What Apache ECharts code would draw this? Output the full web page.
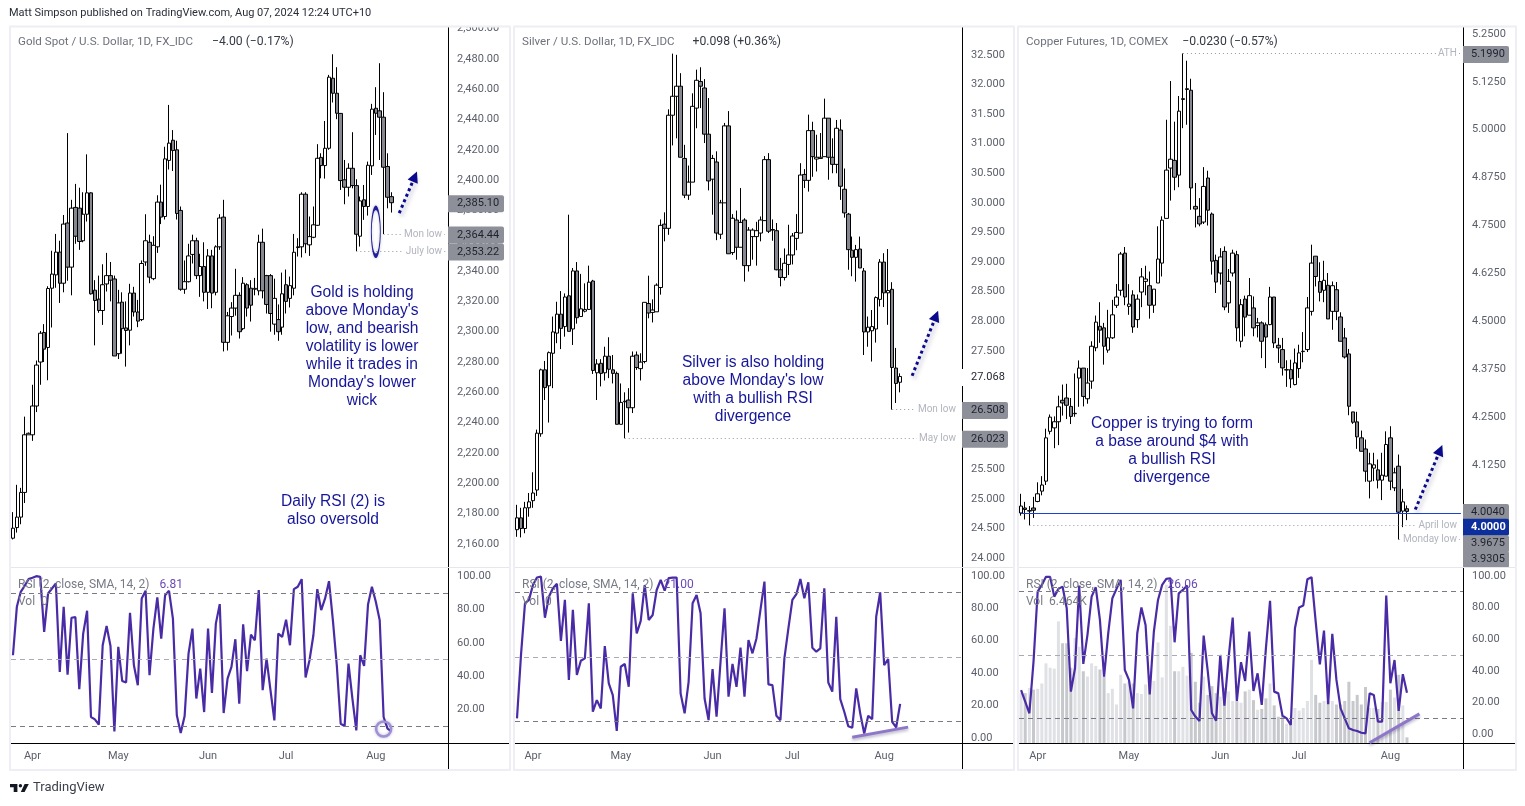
<!DOCTYPE html>
<html>
<head>
<meta charset="utf-8">
<title>Gold, Silver and Copper</title>
<script src="https://cdn.jsdelivr.net/npm/echarts@6/dist/echarts.min.js"></script>
<style>
  html, body { margin: 0; padding: 0; background: #fff; }
  #chart { width: 1525px; height: 806px; }
</style>
</head>
<body>
<div id="chart"></div>
<script>
// Daily bars, each row is open, high, low, close
var goldBars = [
  [2163.8,2181,2163,2170.4],[2170.8,2199,2167.5,2177.7],[2177.7,2197,2173,2194],[2194,2244,2187,2232],[2232,2233.5,2232,2233],
  [2232,2265,2228,2251],[2251,2281,2247,2278],[2280,2300.5,2265,2299],[2299.5,2305,2280,2288.5],[2289.6,2330,2268,2328.5],
  [2328.7,2353.4,2302.8,2338],[2337.5,2364.5,2329,2352.5],[2352.5,2360,2319,2332],[2332,2377,2326,2371],[2371.7,2431,2333.6,2342.6],
  [2342.6,2387,2324,2381.5],[2382,2397.5,2358,2363],[2381.5,2395,2354,2359.5],[2360,2392,2359,2377.5],[2377.5,2417,2372.7,2391.6],
  [2391.6,2392,2324.5,2325],[2327.4,2334,2291,2320.6],[2321.5,2337,2312.5,2314],[2314,2344.5,2304.5,2331],[2331.5,2352,2326.5,2337],
  [2337,2346,2320,2334],[2334.8,2337,2284,2284],[2285.5,2327.6,2282,2319],[2319.5,2326,2285.5,2302],[2302.5,2320,2277,2300.8],
  [2301,2331.6,2291,2325.5],[2325.5,2329.6,2310,2313],[2313,2321,2303,2307],[2308,2347,2307,2345],[2346,2377.5,2343.5,2360],
  [2359,2364,2332,2336],[2335,2363,2334,2357],[2356,2390,2352,2385.5],[2385.5,2397,2371,2375.6],[2376,2422,2374,2414],
  [2413,2449.6,2407,2424.4],[2426.3,2433,2406,2419.5],[2420,2426,2374,2378],[2380,2382.6,2327,2328],[2328,2347,2325,2333],
  [2333,2358,2332.5,2350],[2351,2364,2345,2360],[2360,2362,2334.7,2337],[2337,2351.4,2323,2343],[2343,2359,2320,2326],
  [2326,2354.5,2315,2350],[2350,2354,2315.5,2325.5],[2326,2357,2324,2356],[2356,2377.5,2354,2375],[2375.6,2387,2287,2293],
  [2293,2313,2287.6,2310.5],[2310,2319.5,2297.5,2315.6],[2315.6,2341.5,2310.6,2324],[2324,2326,2295.5,2300],[2302,2336,2301,2332],
  [2331,2332,2310,2315.6],[2328.7,2334,2306.7,2317.5],[2328,2335.5,2324,2328.6],[2327,2364,2324,2359],[2359,2368,2322,2327],
  [2337,2337.5,2312,2318],[2337,2338,2300,2312],[2305,2335,2298,2322],[2308,2318,2294,2300],[2303,2339,2298,2325],
  [2331,2341,2312,2320],[2322,2336.4,2316,2330.4],[2328.7,2364.5,2324,2352.4],[2355.5,2361.7,2349.6,2356],[2356,2392,2349,2390.7],
  [2390.7,2392,2351.8,2358],[2357.3,2376,2350,2362.7],[2362.3,2382.6,2361.7,2370.5],[2370.2,2423.7,2369.8,2414.4],[2415,2417.7,2401.2,2409.6],
  [2409.6,2439,2401,2421],[2421,2469.4,2420,2467.9],[2467.2,2483,2451.2,2457.3],[2457.3,2474.5,2440.2,2444.1],[2444,2444.3,2393.5,2399.7],
  [2400.2,2413.3,2384.1,2395.3],[2395.3,2411.1,2389.2,2407.8],[2407.8,2431.6,2394.6,2396.4],[2396.4,2400.6,2353.22,2364.3],[2363,2389.2,2356.2,2386.3],
  [2387,2396.8,2373.8,2382.6],[2382.6,2412.2,2376.6,2409.8],[2409.4,2450.3,2403.4,2446.8],[2447.4,2461.3,2429.8,2444.1],[2445.7,2477.1,2413.3,2441.5],
  [2441.5,2458,2364.44,2408.5],[2409,2417.7,2381.4,2388.7],[2389.1,2392,2378.6,2385.1]
];
var silverBars = [
  [24.48,24.9,24.36,24.68],[24.68,24.85,24.35,24.5],[24.5,24.95,24.42,24.85],[24.85,25.1,24.7,24.95],[24.97,25.45,24.85,25.1],
  [25.15,26.17,25.05,26.11],[26.1,27.2,26.05,27.18],[27.18,27.33,26.67,26.88],[26.91,27.49,26.29,27.47],[27.46,28.08,26.87,27.82],
  [27.8,28.33,27.63,28.12],[28.12,28.51,27.53,27.88],[27.91,28.47,27.74,28.41],[28.43,29.8,27.83,27.83],[27.87,28.9,27.6,28.85],
  [28.85,29,27.96,28.06],[28.08,28.8,28.08,28.21],[28.17,28.64,28.15,28.2],[28.2,28.94,28.19,28.66],[28.68,28.7,27.11,27.17],
  [27.13,27.36,26.67,27.28],[27.29,27.36,26.9,27.12],[27.13,27.57,27,27.41],[27.41,27.73,27.04,27.19],[27.18,27.43,26.95,27.12],
  [27.12,27.15,26.26,26.26],[26.26,26.95,26.26,26.63],[26.64,26.8,26.023,26.65],[26.67,26.87,26.12,26.54],[26.54,27.49,26.45,27.41],
  [27.43,27.49,27.18,27.22],[27.2,27.46,27,27.31],[27.32,28.32,27.29,28.32],[28.3,28.77,28.05,28.14],[28.15,28.37,27.98,28.19],
  [28.16,28.64,28.16,28.61],[28.57,29.72,28.45,29.62],[29.64,29.84,29.35,29.57],[29.57,31.58,29.46,31.48],[31.48,32.52,30.97,31.8],
  [31.8,32.5,31.09,31.97],[31.97,32.19,30.77,30.77],[30.75,30.98,30.08,30.13],[30.13,30.63,30.05,30.35],[30.35,31.85,30.35,31.63],
  [31.6,32.25,31.26,32.07],[32.05,32.29,31.6,31.97],[31.94,32.09,31.01,31.16],[31.16,31.77,30.21,30.37],[30.4,30.81,29.8,30.75],
  [30.69,30.87,29.37,29.49],[29.47,30.05,29.39,30],[30,31.35,30,31.3],[31.3,31.55,29.14,29.14],[29.16,29.81,29.12,29.74],
  [29.71,29.87,29.04,29.25],[29.25,30.25,29.25,29.67],[29.71,29.74,28.67,28.94],[28.94,29.59,28.84,29.54],[29.43,29.57,29.04,29.54],
  [29.43,29.68,28.94,29.53],[29.49,29.77,29.35,29.71],[29.7,30.79,29.7,30.73],[30.73,30.84,29.49,29.52],[29.54,29.72,29.36,29.55],
  [29.53,29.66,28.86,28.87],[28.87,29.07,28.59,28.74],[28.74,29.23,28.69,28.98],[28.96,29.63,28.78,29.12],[29.12,29.49,28.96,29.44],
  [29.4,29.81,29.2,29.5],[29.49,30.67,29.49,30.47],[30.48,30.57,30.25,30.38],[30.38,31.49,30.19,31.22],[31.22,31.37,30.44,30.78],
  [30.74,31.15,30.53,30.77],[30.75,31.18,30.75,30.77],[30.78,31.76,30.78,31.43],[31.43,31.43,30.39,30.77],[30.77,31.09,30.5,30.65],
  [30.65,31.4,30.5,31.26],[31.23,31.41,30.05,30.28],[30.23,30.58,29.75,29.83],[29.81,29.83,28.87,29.21],[29.2,29.43,28.76,29.08],
  [29.08,29.29,28.67,29.21],[29.22,29.43,28.9,28.9],[28.85,28.9,27.43,27.82],[27.82,28.08,27.57,27.9],[27.84,28.19,27.32,27.91],
  [27.87,28.42,27.64,28.4],[28.37,29.05,28.25,29],[29,29.15,28.24,28.48],[28.48,29.22,27.94,28.52],[28.54,28.66,26.508,27.22],
  [27.21,27.55,26.62,26.95],[26.97,27.12,26.8,27.068]
];
var copperBars = [
  [4,4.05,3.993,4.018],[4.013,4.029,3.983,4.009],[4.005,4.018,3.9675,4.006],[4.013,4.042,3.987,4.007],[4.03,4.08,4.028,4.05],
  [4.057,4.096,4.046,4.073],[4.083,4.22,4.073,4.196],[4.213,4.257,4.205,4.25],[4.222,4.252,4.169,4.238],[4.238,4.306,4.177,4.277],
  [4.294,4.335,4.254,4.287],[4.3,4.337,4.245,4.281],[4.278,4.3,4.232,4.252],[4.259,4.364,4.251,4.26],[4.352,4.398,4.277,4.378],
  [4.378,4.378,4.278,4.304],[4.298,4.378,4.285,4.339],[4.344,4.448,4.324,4.435],[4.431,4.515,4.422,4.498],[4.487,4.55,4.444,4.477],
  [4.483,4.496,4.387,4.435],[4.425,4.53,4.418,4.457],[4.457,4.556,4.454,4.517],[4.5418,4.5974,4.535,4.5635],[4.581,4.681,4.567,4.6756],
  [4.678,4.694,4.542,4.5635],[4.539,4.597,4.517,4.545],[4.569,4.581,4.47,4.4853],[4.5045,4.57,4.483,4.558],[4.5765,4.639,4.537,4.616],
  [4.6043,4.645,4.568,4.6104],[4.593,4.63,4.507,4.542],[4.542,4.584,4.522,4.584],[4.6,4.748,4.6,4.6625],[4.652,4.774,4.617,4.764],
  [4.7686,5.026,4.7686,4.8946],[4.9,5.127,4.815,4.923],[4.92,5.021,4.842,4.876],[4.8815,5.088,4.85,5.0484],[5.079,5.199,5.004,5.081],
  [5.105,5.18,5.013,5.107],[5.103,5.133,4.791,4.848],[4.8,4.861,4.745,4.793],[4.774,4.8216,4.748,4.754],[4.759,4.9024,4.754,4.852],
  [4.874,4.893,4.75,4.79],[4.78,4.784,4.622,4.657],[4.659,4.674,4.574,4.6025],[4.626,4.691,4.596,4.668],[4.6825,4.6956,4.529,4.5374],
  [4.548,4.6365,4.522,4.6043],[4.626,4.687,4.617,4.678],[4.674,4.684,4.448,4.483],[4.448,4.558,4.432,4.5435],[4.558,4.567,4.461,4.511],
  [4.516,4.613,4.516,4.567],[4.535,4.565,4.461,4.483],[4.489,4.509,4.458,4.496],[4.496,4.5,4.404,4.448],[4.491,4.497,4.378,4.459],
  [4.4914,4.59,4.49,4.5635],[4.5635,4.5635,4.4306,4.4436],[4.4375,4.4567,4.3915,4.4306],[4.4263,4.4567,4.3585,4.3785],[4.373,4.3984,4.329,4.374],
  [4.374,4.4,4.3263,4.3498],[4.335,4.429,4.333,4.3915],[4.3767,4.439,4.3524,4.4176],[4.421,4.472,4.3932,4.422],[4.4263,4.5635,4.42,4.535],
  [4.526,4.7,4.515,4.652],[4.67,4.67,4.591,4.617],[4.604,4.654,4.552,4.5757],[4.581,4.658,4.55,4.607],[4.594,4.626,4.5062,4.5062],
  [4.526,4.604,4.478,4.593],[4.5825,4.6026,4.503,4.526],[4.5114,4.5236,4.448,4.448],[4.4567,4.4827,4.403,4.407],[4.415,4.428,4.255,4.2785],
  [4.2637,4.2637,4.2325,4.2368],[4.2377,4.264,4.1673,4.1986],[4.196,4.215,4.161,4.161],[4.167,4.1916,4.0813,4.109],[4.083,4.157,4.038,4.128],
  [4.117,4.157,4.083,4.1256],[4.1125,4.1395,4.064,4.0856],[4.0856,4.157,4.0335,4.0986],[4.096,4.213,4.096,4.1786],[4.196,4.2264,4.0595,4.083],
  [4.0656,4.118,4.057,4.1047],[4.122,4.1525,3.9305,4.002],[4.0048,4.063,3.963,4.029],[4.011,4.0195,3.9813,4.004]
];

// RSI (2) readings, one per bar
var goldRsi = [52.5,81.6,90.6,94.2,98.2,99,100,99.6,66.5,89.6,92.6,95.6,42.5,81.6,40.9,75,75.4,32.1,65.5,79.2,
  15.4,14,10.8,58.5,70.1,58.1,6.8,57.5,37.1,36.1,78,46.5,34.5,86.6,91.2,40.5,68.5,87.2,62.5,88.6,
  91.2,74.5,16.4,5.8,16,53.5,68.5,26.5,44.5,18.4,68.5,29.9,71.5,83.2,17.8,38.5,45.5,62.1,23.4,71.1,
  42.9,64.9,61.5,91.6,31.5,50.5,31.5,13.4,65.5,63.5,73.9,58.5,92.2,93.6,98.2,39.1,49.5,64.5,92.2,79.6,
  86.6,97,73.5,46.5,11.4,10,47.5,26.5,7.4,52.5,46.1,83,93.6,84.6,73.5,15.4,8.4,6.81];
var silverRsi = [12,51.1,83.1,85.2,94.4,99,99.6,74.2,87.2,92.4,95.1,59.8,85.2,35.7,79,38.8,47.6,49.1,83.1,16.1,
  23.3,18.1,56.7,33.6,26.4,4.3,43.9,45.6,31.5,89.3,64.5,72.2,94.4,72.8,75.9,91.3,97.5,90.9,98.6,99,
  99,27.4,15.1,34.6,83.1,88.2,76.9,24.3,10.9,42.5,13,47,80,25.4,45.6,31.5,55.7,25.4,60.4,52.2,
  61.4,79,96.5,33,32.6,13.6,10.9,49.1,67.6,85.2,88.7,98.1,86.2,96.1,55.7,53.2,55.3,92.4,34.2,28.5,
  74.8,23.9,16.1,7.2,6.2,30.5,15.1,2.7,13.6,11.5,74.8,89.9,44.9,48.7,9.9,6.4,21];
var copperRsi = [27.8,20.5,13.1,45.8,90.1,94.3,99.4,99.4,86.9,91.8,93.2,79.5,26.8,41.6,93.9,44.3,62.7,86.9,92.8,72.2,
  36.3,63.7,85.9,91.8,97.5,40.5,34.2,16.2,63.7,80,69,25.1,64.8,84.8,94.3,98.1,98.5,58,89,91.1,
  93.9,15.2,11,8.2,62.2,39.5,13.1,8.4,50,17.9,47.9,73.6,20.9,45.4,33.5,64.8,27.2,38.4,18.4,54.2,
  84.2,26.8,25.7,11.6,9.9,5.7,66.9,80,81.2,97.9,99.2,71.1,44.1,65.4,18.8,63.3,34.2,16.2,9.9,3.6,
  2.5,1.9,0.8,0.4,25.7,24.7,7.8,7.8,87.6,32.1,46.8,14.6,37.8,26.06];

// Copper volume in thousands, one per bar
var copperVolume = [57,57,63,61,62,68,91,86,85,139,114,114,86,120,110,82,76,91,88,84,
  76,57,62,44,78,68,70,68,57,56,67,67,71,115,75,181,134,82,82,87,
  77,103,70,46,76,55,65,57,53,63,59,48,48,46,59,61,49,38,39,51,
  68,43,30,32,22,25,40,37,40,48,95,55,46,48,48,48,44,44,48,70,
  48,55,44,64,40,40,39,47,47,61,52,78,43,6.464];

// Axis ticks
var goldTicks = [2160,2180,2200,2220,2240,2260,2280,2300,2320,2340,2360,2380,2400,2420,2440,2460,2480,2500];
var silverTicks = [24,24.5,25,25.5,26,26.5,27,27.5,28,28.5,29,29.5,30,30.5,31,31.5,32,32.5];
var copperTicks = [4,4.125,4.25,4.375,4.5,4.625,4.75,4.875,5,5.125,5.25];
var goldRsiTicks = [20,40,60,80,100];
var rsiTicks = [0,20,40,60,80,100];

// Month labels and the bar each one sits on
var monthNames = ['Apr','May','Jun','Jul','Aug'];
var goldMonthBars = [5,27,50,70,93];
var silverMonthBars = [4,26,49,69,92];
var copperMonthBars = [4,26,48,67,89];

// Price tags on the right axis: text and the price level they sit at
var goldTagText = ['2,385.10','2,364.44','2,353.22'];
var goldTagAt = [2385.1,2364.44,2353.22];
var silverTagText = ['27.068','26.508','26.023'];
var silverTagAt = [27.068,26.508,26.023];
var copperTagText = ['5.1990','4.0040','4.0000','3.9675','3.9305'];
var copperTagAt = [5.199,4.004,3.9656,3.9223,3.8814];

var AXIS_FONT = 'Roboto';
var NOTE_BLUE = '#16169a';
var PURPLE = '#4a2ba6';

function dottedLine(name, bar, lastSlot, price) {
  return [{
    coord: [bar, price],
    lineStyle: { color: '#9598a1', type: [1, 3], width: 1 },
    label: {
      show: true, position: 'insideEnd', distance: 2, formatter: name, color: '#b2b5be',
      fontFamily: AXIS_FONT, fontSize: 10, backgroundColor: '#fff', padding: [1, 2]
    },
    symbol: 'none'
  }, { coord: [lastSlot, price], symbol: 'none' }];
}

function arrowLine(from, to) {
  return [{
    coord: from,
    symbol: 'none',
    label: { show: false },
    lineStyle: { color: '#0a0a8c', type: [3, 3], width: 3, shadowColor: 'rgba(20,20,80,0.35)', shadowBlur: 4, shadowOffsetX: 2, shadowOffsetY: 2 }
  }, { coord: to, symbol: 'triangle', symbolSize: 11 }];
}

function tagSeries(axisIdx, tags) {
  return {
    type: 'custom',
    coordinateSystem: 'cartesian2d',
    xAxisIndex: axisIdx,
    yAxisIndex: axisIdx,
    clip: false,
    silent: true,
    z: 6,
    encode: { x: 0, y: 1 },
    data: tags.map(function(t) { return [0, t.at]; }),
    renderItem: function(params, api) {
      var t = tags[params.dataIndex];
      var y = api.coord([0, api.value(1)])[1] + 1;
      var x = params.coordSys.x + params.coordSys.width;
      return {
        type: 'group',
        children: [{
          type: 'rect',
          shape: { x: x - (t.kind === 'white' ? 1 : 0), y: y - 8.5, width: t.w, height: 17, r: [0, 2, 2, 0] },
          style: { fill: t.kind === 'blue' ? '#0d2f9c' : (t.kind === 'white' ? '#fff' : '#8e9099') }
        }, {
          type: 'text',
          style: {
            x: x + t.pad, y: y, text: t.text, verticalAlign: 'middle', align: 'left',
            fill: t.kind === 'blue' ? '#fff' : '#1e222d',
            font: (t.kind === 'blue' ? 'bold ' : '') + '11px ' + AXIS_FONT
          }
        }]
      };
    }
  };
}

var grid = [], xAxis = [], yAxis = [], series = [], title = [];

// One instrument: a price pane on top and an RSI pane below
function addPanel(p) {
  var price = grid.length, rsi = price + 1;
  var cats = [];
  for (var i = 0; i < p.slots; i++) cats.push(String(i));

  grid.push({ left: p.left, width: p.width, top: 27, height: 540 });
  grid.push({ left: p.left, width: p.width, top: 568, height: 175 });

  xAxis.push({ type: 'category', gridIndex: price, data: cats, show: false });
  xAxis.push({
    type: 'category', gridIndex: rsi, data: cats,
    axisLine: { onZero: false, lineStyle: { color: '#000', width: 1 } },
    axisTick: { show: false },
    axisLabel: {
      color: '#5d606b', fontFamily: AXIS_FONT, fontSize: 11, margin: 8,
      interval: function(index) { return p.monthBars.indexOf(index) >= 0; },
      formatter: function(value) { return monthNames[p.monthBars.indexOf(Number(value))]; }
    }
  });

  yAxis.push({
    type: 'value', gridIndex: price, position: 'right', min: p.min, max: p.max,
    splitLine: { show: false },
    axisLine: { show: true, lineStyle: { color: '#000', width: 1 } },
    axisTick: { show: false },
    axisLabel: {
      customValues: p.ticks, color: '#5d606b', fontFamily: AXIS_FONT, fontSize: 11, margin: 9,
      padding: [3, 0, 0, 0], formatter: p.format
    }
  });
  yAxis.push({
    type: 'value', gridIndex: rsi, position: 'right', min: p.rsiMin, max: p.rsiMax,
    splitLine: { show: false },
    axisLine: { show: true, lineStyle: { color: '#000', width: 1 } },
    axisTick: { show: false },
    axisLabel: {
      customValues: p.rsiTicks, color: '#5d606b', fontFamily: AXIS_FONT, fontSize: 11, margin: 9,
      padding: [3, 0, 0, 0],
      formatter: function(v) { return v.toFixed(2); }
    }
  });

  series.push({
    type: 'candlestick',
    xAxisIndex: price,
    yAxisIndex: price,
    barWidth: 4,
    silent: true,
    animation: false,
    itemStyle: { color: '#fff', color0: '#858891', borderColor: '#000', borderColor0: '#000', borderWidth: 1 },
    data: p.bars.map(function(b) { return [b[0], b[3], b[2], b[1]]; }),
    markLine: {
      silent: true, animation: false, symbol: 'none', label: { show: false },
      data: p.lines
    },
    markPoint: p.ellipse ? {
      silent: true, animation: false,
      data: [{
        coord: p.ellipse, symbol: 'circle', symbolSize: [9, 48], label: { show: false },
        itemStyle: { color: 'rgba(0,0,0,0)', borderColor: '#1f1f9c', borderWidth: 2, shadowColor: 'rgba(20,20,80,0.3)', shadowBlur: 3 }
      }]
    } : undefined
  });

  series.push(tagSeries(price, p.tags));

  // RSI line with its 90 / 50 / 10 bands
  series.push({
    type: 'line',
    xAxisIndex: rsi,
    yAxisIndex: rsi,
    showSymbol: false,
    silent: true,
    animation: false,
    z: 4,
    lineStyle: { color: PURPLE, width: 2.2 },
    data: p.rsi,
    markLine: {
      silent: true, animation: false, symbol: 'none', label: { show: false },
      data: [
        { yAxis: 90, lineStyle: { color: '#787b86', type: [5, 4], width: 1 } },
        { yAxis: 50, lineStyle: { color: '#a8abb4', type: [5, 4], width: 1 } },
        { yAxis: 10, lineStyle: { color: '#787b86', type: [5, 4], width: 1 } }
      ].concat(p.rsiNotes || [])
    },
    markPoint: p.rsiCircle ? {
      silent: true, animation: false,
      data: [{
        coord: p.rsiCircle, symbol: 'circle', symbolSize: 15, label: { show: false },
        itemStyle: { color: 'rgba(0,0,0,0)', borderColor: '#a08fd6', borderWidth: 2.5, shadowColor: 'rgba(20,20,80,0.3)', shadowBlur: 3 }
      }]
    } : undefined
  });

  if (p.volume) {
    yAxis.push({ type: 'value', gridIndex: rsi, show: false, min: 0, max: 200, splitLine: { show: false } });
    series.push({
      type: 'bar',
      xAxisIndex: rsi,
      yAxisIndex: yAxis.length - 1,
      barWidth: 3,
      silent: true,
      animation: false,
      z: 1,
      data: p.volume.map(function(v, i) {
        var up = p.bars[i][3] >= p.bars[i][0];
        return { value: v, itemStyle: { color: up ? '#e0e1e5' : '#c6c8cc' } };
      })
    });
  }

  title.push({
    left: p.left + 2, top: 28,
    text: '{a|' + p.name + '}  {b|' + p.change + '}',
    textStyle: {
      rich: {
        a: { color: '#6f727c', fontFamily: AXIS_FONT, fontSize: 11.6, fontWeight: 'normal', padding: [0, p.titleGap, 0, 0] },
        b: { color: '#363a45', fontFamily: AXIS_FONT, fontSize: 12.2, fontWeight: 'normal' }
      }
    }
  });
  title.push({
    left: p.left + 2, top: 571,
    text: '{a|RSI (2, close, SMA, 14, 2)}  {c|' + p.rsiText + '}\n{a|' + p.volText + '}',
    textStyle: {
      lineHeight: 17,
      rich: {
        a: { color: '#787b86', fontFamily: AXIS_FONT, fontSize: 12, lineHeight: 17, fontWeight: 'normal' },
        c: { color: '#6a4bb5', fontFamily: AXIS_FONT, fontSize: 12, lineHeight: 17, fontWeight: 'normal' }
      }
    }
  });
}

function commaFormat(v) {
  var parts = v.toFixed(2).split('.');
  return parts[0].charAt(0) + ',' + parts[0].slice(1) + '.' + parts[1];
}

function makeTags(texts, prices, kinds, w, pad) {
  return texts.map(function(t, i) {
    return { text: t, at: prices[i], kind: kinds[i], w: w, pad: pad };
  });
}

addPanel({
  name: 'Gold Spot / U.S. Dollar, 1D, FX_IDC', change: '\u22124.00 (\u22120.17%)', titleGap: 9,
  left: 11, width: 437, slots: 112, min: 2144.8, max: 2501, ticks: goldTicks, format: commaFormat,
  rsiMin: -0.2, rsiMax: 104.9, rsiTicks: goldRsiTicks, rsiText: '6.81', volText: 'Vol  0',
  bars: goldBars, rsi: goldRsi, monthBars: goldMonthBars,
  tags: makeTags(goldTagText, goldTagAt, ['gray', 'gray', 'gray'], 56, 9),
  lines: [
    dottedLine('Mon low', 95, 111, 2364.44),
    dottedLine('July low', 88, 111, 2353.22),
    arrowLine([99, 2378.2], [103, 2402.4])
  ],
  ellipse: [93, 2365.9],
  rsiCircle: [95, 8.2]
});

addPanel({
  name: 'Silver / U.S. Dollar, 1D, FX_IDC', change: '+0.098 (+0.36%)', titleGap: 8,
  left: 515, width: 447, slots: 112, min: 23.85, max: 32.97, ticks: silverTicks,
  format: function(v) { return v.toFixed(3); },
  rsiMin: -3.2, rsiMax: 104.9, rsiTicks: rsiTicks, rsiText: '21.00', volText: 'Vol  0',
  bars: silverBars, rsi: silverRsi, monthBars: silverMonthBars,
  tags: makeTags(silverTagText, silverTagAt, ['white', 'gray', 'gray'], 46, 9),
  lines: [
    dottedLine('Mon low', 94, 111, 26.508),
    dottedLine('May low', 27, 111, 26.023),
    arrowLine([99, 27.08], [105, 28.09])
  ],
  rsiNotes: [[
    { coord: [84, 0.4], lineStyle: { color: '#8f76c9', width: 3, type: 'solid', shadowColor: 'rgba(20,20,80,0.3)', shadowBlur: 3, shadowOffsetY: 2 } },
    { coord: [98, 6.6] }
  ]]
});

addPanel({
  name: 'Copper Futures, 1D, COMEX', change: '\u22120.0230 (\u22120.57%)', titleGap: 4,
  left: 1019, width: 444, slots: 107, min: 3.859, max: 5.268, ticks: copperTicks,
  format: function(v) { return v.toFixed(4); },
  rsiMin: -5.7, rsiMax: 105, rsiTicks: rsiTicks, rsiText: '26.06', volText: 'Vol  6.464K',
  bars: copperBars, rsi: copperRsi, monthBars: copperMonthBars, volume: copperVolume,
  tags: makeTags(copperTagText, copperTagAt, ['gray', 'gray', 'blue', 'gray', 'gray'], 46, 8),
  lines: [
    [{ coord: [0, 4], symbol: 'none', label: { show: false }, lineStyle: { color: '#1a44d0', type: 'solid', width: 1 } }, { coord: [106, 4], symbol: 'none' }],
    dottedLine('ATH', 39, 106, 5.199),
    dottedLine('April low', 2, 106, 3.9675),
    dottedLine('Monday low', 91, 106, 3.9305),
    arrowLine([95, 4.009], [101, 4.164])
  ],
  rsiNotes: [[
    { coord: [84, -5.5], lineStyle: { color: '#8f76c9', width: 3, type: 'solid', shadowColor: 'rgba(20,20,80,0.3)', shadowBlur: 3, shadowOffsetY: 2 } },
    { coord: [96, 12.7] }
  ]]
});

// Frames, axis stubs, header, footer and the notes written on the chart
function frame(x, w) {
  return { type: 'rect', z: 50, shape: { x: x, y: 26.5, width: w, height: 743.5 }, style: { fill: 'none', stroke: '#eeeef4', lineWidth: 2 } };
}
function hline(x1, x2, y, color) {
  return { type: 'line', z: 40, shape: { x1: x1, y1: y, x2: x2, y2: y }, style: { stroke: color, lineWidth: 1 } };
}
function vline(x, y1, y2) {
  return { type: 'line', z: 40, shape: { x1: x, y1: y1, x2: x, y2: y2 }, style: { stroke: '#000', lineWidth: 1 } };
}
function note(text, x, y) {
  return {
    type: 'text', z: 30,
    style: { text: text, x: x, y: y, align: 'center', verticalAlign: 'top', lineHeight: 18, fill: NOTE_BLUE, font: '15.6px "Liberation Sans"' }
  };
}

var graphic = [
  { type: 'rect', z: 45, shape: { x: 449, y: 14, width: 62, height: 12 }, style: { fill: '#fff' } },
  frame(10, 500), frame(514, 500), frame(1018, 498),
  hline(11, 510, 567.5, '#e6e6ec'), hline(515, 1014, 567.5, '#e6e6ec'), hline(1019, 1516, 567.5, '#e6e6ec'),
  hline(448, 510, 743.5, '#000'), hline(962, 1014, 743.5, '#000'), hline(1463, 1516, 743.5, '#000'),
  vline(448.5, 743, 770), vline(962.5, 743, 770), vline(1463.5, 743, 770),
  note("Gold is holding\nabove Monday's\nlow, and bearish\nvolatility is lower\nwhile it trades in\nMonday's lower\nwick", 362, 284),
  note('Daily RSI (2) is\nalso oversold', 333, 493),
  note("Silver is also holding\nabove Monday's low\nwith a bullish RSI\ndivergence", 753, 354),
  note('Copper is trying to form\na base around $4 with\na bullish RSI\ndivergence', 1172, 415),
  {
    type: 'text', z: 30,
    style: { text: 'Matt Simpson published on TradingView.com, Aug 07, 2024 12:24 UTC+10', x: 9, y: 13, verticalAlign: 'middle', fill: '#2a2e39', font: '11px ' + AXIS_FONT }
  },
  // TradingView mark
  { type: 'polygon', z: 30, shape: { points: [[10, 784], [17.4, 784], [17.4, 792], [13.7, 792], [13.7, 787.2], [10, 787.2]] }, style: { fill: '#131722' } },
  { type: 'circle', z: 30, shape: { cx: 20.4, cy: 785.7, r: 1.7 }, style: { fill: '#131722' } },
  { type: 'polygon', z: 30, shape: { points: [[24.6, 784], [28.8, 784], [24.6, 792], [20.8, 792]] }, style: { fill: '#131722' } },
  {
    type: 'text', z: 30,
    style: { text: 'TradingView', x: 33, y: 788, verticalAlign: 'middle', fill: '#3a3e49', font: '13px ' + AXIS_FONT }
  }
];

var chart = echarts.init(document.getElementById('chart'), null, { renderer: 'canvas' });
chart.setOption({
  animation: false,
  backgroundColor: '#fff',
  title: title,
  grid: grid,
  xAxis: xAxis,
  yAxis: yAxis,
  series: series,
  graphic: graphic
});
</script>
</body>
</html>
